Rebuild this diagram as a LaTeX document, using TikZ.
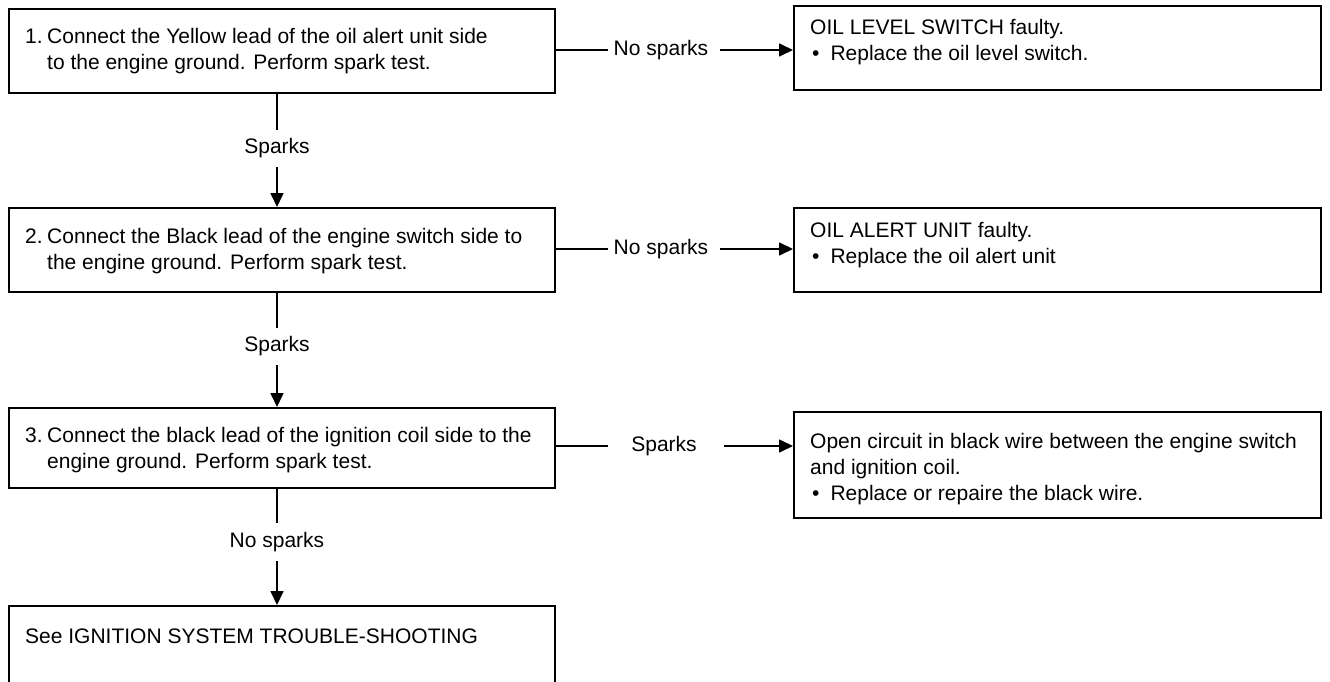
\documentclass[tikz,border=0pt]{standalone}
\usepackage{fontspec}
\setmainfont{Liberation Sans}
\usetikzlibrary{arrows.meta,calc}
\begin{document}
\begin{tikzpicture}[x=1pt,y=-1pt,
  box/.style={draw,line width=1.8pt,rectangle,inner sep=0pt,anchor=north west},
  txt/.style={anchor=base west,inner sep=0pt,font=\fontsize{21}{26}\selectfont},
  lbl/.style={inner sep=0pt,font=\fontsize{21}{26}\selectfont},
  conn/.style={line width=1.7pt},
  arr/.style={line width=1.7pt,-{Triangle[length=14pt,width=13pt]}}]
\useasboundingbox (0,0) rectangle (1330,682);
\clip (0,0) rectangle (1330,682);
% left boxes
\node[box,minimum width=546pt,minimum height=84pt] (b1) at (8,8) {};
\node[box,minimum width=546pt,minimum height=84pt] (b2) at (8,207) {};
\node[box,minimum width=546pt,minimum height=80pt] (b3) at (8,407) {};
\node[box,minimum width=546pt,minimum height=100pt] (b4) at (8,605) {};
% right boxes
\node[box,minimum width=527pt,minimum height=84pt] (r1) at (793,5) {};
\node[box,minimum width=527pt,minimum height=84pt] (r2) at (793,207) {};
\node[box,minimum width=527pt,minimum height=106pt] (r3) at (793,411) {};
% texts
\node[txt] (t1) at (25,44) {\begin{tabular}[t]{@{}p{22pt}@{}l@{}}1.&Connect the Yellow lead of the oil alert unit side\\&to the engine ground. Perform spark test.\end{tabular}};
\node[txt] (t2) at (25,243) {\begin{tabular}[t]{@{}p{22pt}@{}l@{}}2.&Connect the Black lead of the engine switch side to\\&the engine ground. Perform spark test.\end{tabular}};
\node[txt] (t3) at (25,442) {\begin{tabular}[t]{@{}p{22pt}@{}l@{}}3.&Connect the black lead of the ignition coil side to the\\&engine ground. Perform spark test.\end{tabular}};
\node[txt] (t4) at (25,643) {See IGNITION SYSTEM TROUBLE-SHOOTING};
\node[txt] (u1) at (810,35) {\begin{tabular}[t]{@{}l@{}}OIL LEVEL SWITCH faulty.\\\hspace*{2pt}\textbullet\hspace{11pt}Replace the oil level switch.\end{tabular}};
\node[txt] (u2) at (810,237) {\begin{tabular}[t]{@{}l@{}}OIL ALERT UNIT faulty.\\\hspace*{2pt}\textbullet\hspace{11pt}Replace the oil alert unit\end{tabular}};
\node[txt] (u3) at (810,448) {\begin{tabular}[t]{@{}l@{}}Open circuit in black wire between the engine switch\\and ignition coil.\\\hspace*{2pt}\textbullet\hspace{11pt}Replace or repaire the black wire.\end{tabular}};
% horizontal labels
\node[lbl] (h1) at (661,50) {No sparks};
\node[lbl] (h2) at (661,249) {No sparks};
\node[lbl] (h3) at (664,446) {Sparks};
\coordinate (h1a) at (608,50);
\coordinate (h1b) at (720,50);
\coordinate (h2a) at (608,249);
\coordinate (h2b) at (720,249);
\coordinate (h3a) at (608,446);
\coordinate (h3b) at (724,446);
% vertical labels
\node[lbl] (v1) at (277,148) {Sparks};
\node[lbl] (v2) at (277,346) {Sparks};
\node[lbl] (v3) at (277,542) {No sparks};
\coordinate (v1a) at (277,130);
\coordinate (v1b) at (277,167);
\coordinate (v2a) at (277,328);
\coordinate (v2b) at (277,365);
\coordinate (v3a) at (277,523);
\coordinate (v3b) at (277,561);
% connectors
\draw[conn] (h1a -| b1.east) -- (h1a);
\draw[arr] (h1b) -- (h1b -| r1.west);
\draw[conn] (h2a -| b2.east) -- (h2a);
\draw[arr] (h2b) -- (h2b -| r2.west);
\draw[conn] (h3a -| b3.east) -- (h3a);
\draw[arr] (h3b) -- (h3b -| r3.west);
\draw[conn] (v1a |- b1.south) -- (v1a);
\draw[arr] (v1b) -- (v1b |- b2.north);
\draw[conn] (v2a |- b2.south) -- (v2a);
\draw[arr] (v2b) -- (v2b |- b3.north);
\draw[conn] (v3a |- b3.south) -- (v3a);
\draw[arr] (v3b) -- (v3b |- b4.north);
\end{tikzpicture}
\end{document}
